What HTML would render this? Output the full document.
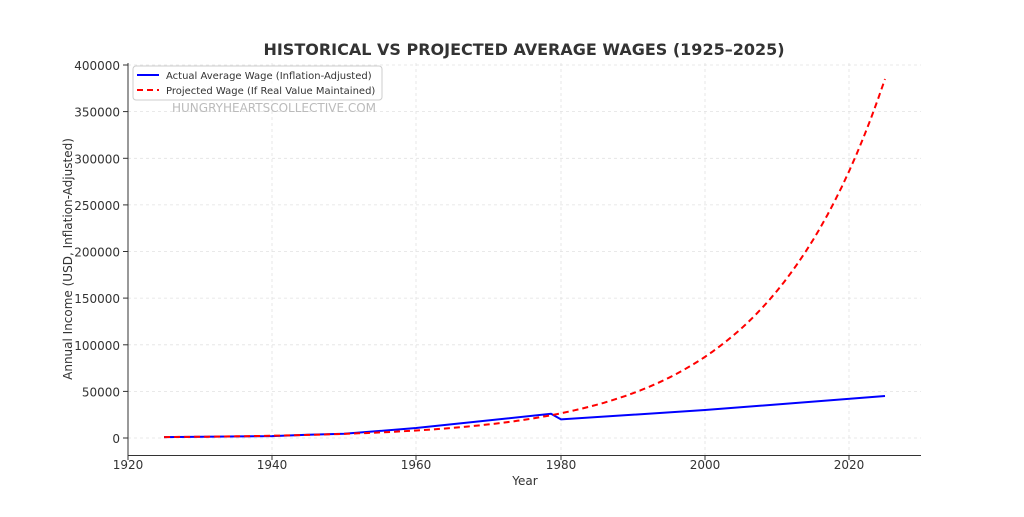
<!DOCTYPE html>
<html><head><meta charset="utf-8"><style>
body{margin:0;background:#fff}
text{font-family:"DejaVu Sans","Liberation Sans",sans-serif}
</style></head><body>
<svg width="1024" height="512" xmlns="http://www.w3.org/2000/svg">
<rect width="1024" height="512" fill="#fff"/>
<g stroke="#e2e2e2" stroke-width="0.8" stroke-dasharray="3,3">
<line x1="272" y1="63" x2="272" y2="455"/><line x1="416" y1="63" x2="416" y2="455"/><line x1="561" y1="63" x2="561" y2="455"/><line x1="705" y1="63" x2="705" y2="455"/><line x1="849" y1="63" x2="849" y2="455"/>
<line x1="128" y1="438" x2="921" y2="438"/><line x1="128" y1="391.4" x2="921" y2="391.4"/><line x1="128" y1="344.8" x2="921" y2="344.8"/><line x1="128" y1="298.1" x2="921" y2="298.1"/><line x1="128" y1="251.5" x2="921" y2="251.5"/><line x1="128" y1="204.9" x2="921" y2="204.9"/><line x1="128" y1="158.3" x2="921" y2="158.3"/><line x1="128" y1="111.6" x2="921" y2="111.6"/><line x1="128" y1="65" x2="921" y2="65"/>
</g>
<g stroke="#333" stroke-width="1"><line x1="128" y1="63" x2="128" y2="455.5"/><line x1="128" y1="455.5" x2="921" y2="455.5"/>
<line x1="128" y1="455" x2="128" y2="460"/><line x1="272" y1="455" x2="272" y2="460"/><line x1="416" y1="455" x2="416" y2="460"/><line x1="561" y1="455" x2="561" y2="460"/><line x1="705" y1="455" x2="705" y2="460"/><line x1="849" y1="455" x2="849" y2="460"/>
<line x1="123" y1="438" x2="128" y2="438"/><line x1="123" y1="391.4" x2="128" y2="391.4"/><line x1="123" y1="344.8" x2="128" y2="344.8"/><line x1="123" y1="298.1" x2="128" y2="298.1"/><line x1="123" y1="251.5" x2="128" y2="251.5"/><line x1="123" y1="204.9" x2="128" y2="204.9"/><line x1="123" y1="158.3" x2="128" y2="158.3"/><line x1="123" y1="111.6" x2="128" y2="111.6"/><line x1="123" y1="65" x2="128" y2="65"/>
</g>
<g font-size="12" fill="#333" text-anchor="middle">
<text x="128" y="469">1920</text><text x="272" y="469">1940</text><text x="416" y="469">1960</text><text x="561" y="469">1980</text><text x="705" y="469">2000</text><text x="849" y="469">2020</text>
</g>
<g font-size="12" fill="#333" text-anchor="end">
<text x="120" y="443">0</text><text x="120" y="396.4">50000</text><text x="120" y="349.8">100000</text><text x="120" y="303.1">150000</text><text x="120" y="256.5">200000</text><text x="120" y="209.9">250000</text><text x="120" y="163.3">300000</text><text x="120" y="116.6">350000</text><text x="120" y="70">400000</text>
</g>
<text x="525" y="485" font-size="12" fill="#333" text-anchor="middle">Year</text>
<text transform="translate(72,259) rotate(-90)" font-size="12" fill="#333" text-anchor="middle">Annual Income (USD, Inflation-Adjusted)</text>
<text x="524" y="55" font-size="16" font-weight="bold" fill="#333" text-anchor="middle">HISTORICAL VS PROJECTED AVERAGE WAGES (1925–2025)</text>
<polyline fill="none" stroke="#0000ff" stroke-width="2" points="164,437.1 272,436.1 308,434.7 344,433.8 416,428 551,413.8 561,419.4 705,410 885,396"/>
<polyline id="r" fill="none" stroke="#ff0000" stroke-width="2" stroke-dasharray="6,4" points=""/>
<text x="172" y="112" font-size="12" fill="#bbb">HUNGRYHEARTSCOLLECTIVE.COM</text>
<rect x="133" y="66" width="249" height="34" rx="3" fill="#fff" fill-opacity="0.8" stroke="#ccc"/>
<line x1="137" y1="75" x2="159" y2="75" stroke="#0000ff" stroke-width="2"/>
<line x1="137" y1="90" x2="159" y2="90" stroke="#ff0000" stroke-width="2" stroke-dasharray="6,4"/>
<text x="166" y="79" font-size="10" fill="#333">Actual Average Wage (Inflation-Adjusted)</text>
<text x="166" y="94" font-size="10" fill="#333">Projected Wage (If Real Value Maintained)</text>
</svg>
<script>
var p=[];for(var yr=1925;yr<=2025;yr+=1){var v=1000*Math.exp(Math.log(385)*(yr-1925)/100);p.push((128+(yr-1920)*7.21).toFixed(1)+","+(438-v*0.0009325).toFixed(1));}
document.getElementById("r").setAttribute("points",p.join(" "));
</script>
</body></html>
